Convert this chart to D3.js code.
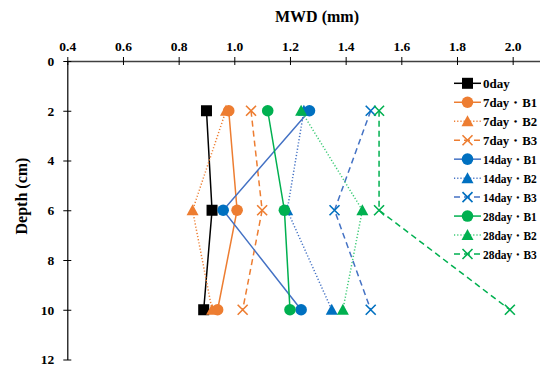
<!DOCTYPE html>
<html>
<head>
<meta charset="utf-8">
<script src="https://cdn.jsdelivr.net/npm/d3@7"></script>
<style>
  body { margin: 0; background: #fff; }
</style>
</head>
<body>
<svg id="chart" width="540" height="367"></svg>
<script>
// depths (cm) sampled
var depths = [2, 6, 10];

// MWD values (mm), one array per series
var day0   = [0.90, 0.92, 0.89];
var d7B1   = [0.98, 1.01, 0.94];
var d7B2   = [0.97, 0.85, 0.92];
var d7B3   = [1.06, 1.10, 1.03];
var d14B1  = [1.27, 0.96, 1.24];
var d14B2  = [1.25, 1.19, 1.35];
var d14B3  = [1.49, 1.36, 1.49];
var d28B1  = [1.12, 1.18, 1.20];
var d28B2  = [1.24, 1.46, 1.39];
var d28B3  = [1.52, 1.52, 1.99];

var seriesNames = ['0day', '7day・B1', '7day・B2', '7day・B3',
                   '14day・B1', '14day・B2', '14day・B3',
                   '28day・B1', '28day・B2', '28day・B3'];

var xTicks = [0.4, 0.6, 0.8, 1.0, 1.2, 1.4, 1.6, 1.8, 2.0];
var yTicks = [0, 2, 4, 6, 8, 10, 12];

var FONT = '"Liberation Serif", Tinos, "Times New Roman", "DejaVu Serif", serif';

// styles for each series
var orange = '#ED7D31', blueLine = '#4472C4', blue = '#0070C0', green = '#00B050';
var styles = [
    {line: '#000', marker: '#000', shape: 'square', dash: null},
    {line: orange, marker: orange, shape: 'circle', dash: null},
    {line: orange, marker: orange, shape: 'triangle', dash: '1.2,2'},
    {line: orange, marker: orange, shape: 'cross', dash: '6,4'},
    {line: blueLine, marker: blue, shape: 'circle', dash: null},
    {line: blueLine, marker: blue, shape: 'triangle', dash: '1.2,2'},
    {line: blueLine, marker: blue, shape: 'cross', dash: '6,4'},
    {line: green, marker: green, shape: 'circle', dash: null},
    {line: '#3CCB76', marker: green, shape: 'triangle', dash: '1.2,2'},
    {line: green, marker: green, shape: 'cross', dash: '6,4'}
];

var allValues = [day0, d7B1, d7B2, d7B3, d14B1, d14B2, d14B3, d28B1, d28B2, d28B3];
var series = allValues.map(function(vals, i) {
    return {
        name: seriesNames[i],
        style: styles[i],
        points: vals.map(function(v, j) { return {x: v, y: depths[j]}; })
    };
});

var svg = d3.select('#chart');

var x = d3.scaleLinear().domain([0.4, 2.1]).range([67.3, 540.5]);
var y = d3.scaleLinear().domain([0, 12]).range([61, 359.5]);

// top x axis, ticks crossing the line
var xAxisG = svg.append('g')
    .attr('transform', 'translate(0,' + y(0) + ')')
    .call(d3.axisTop(x).tickValues(xTicks).tickSize(0).tickPadding(10)
        .tickFormat(d3.format('.1f')));
xAxisG.attr('font-family', null).attr('font-size', null);
xAxisG.select('.domain').attr('stroke', '#404040').attr('stroke-width', 1.5);
xAxisG.selectAll('.tick line').remove();
xAxisG.selectAll('.tick').append('line')
    .attr('y1', -4).attr('y2', 4).attr('stroke', '#000').attr('stroke-width', 1);
xAxisG.selectAll('.tick text')
    .attr('font-family', FONT).attr('font-weight', 'bold').attr('font-size', '13.5px');

// left y axis
var yAxisG = svg.append('g')
    .attr('transform', 'translate(' + x(0.4) + ',0)')
    .call(d3.axisLeft(y).tickValues(yTicks).tickSize(0).tickPadding(13));
yAxisG.attr('font-family', null).attr('font-size', null);
yAxisG.select('.domain').attr('stroke', '#000').attr('stroke-width', 1.2);
yAxisG.selectAll('.tick line').remove();
yAxisG.selectAll('.tick').append('line')
    .attr('x1', -4).attr('x2', 4).attr('stroke', '#000').attr('stroke-width', 1);
yAxisG.selectAll('.tick text')
    .attr('font-family', FONT).attr('font-weight', 'bold').attr('font-size', '13.5px');

// axis titles
svg.append('text')
    .attr('x', 317).attr('y', 22)
    .attr('text-anchor', 'middle')
    .attr('font-family', FONT).attr('font-weight', 'bold')
    .attr('font-size', '16px')
    .text('MWD (mm)');

svg.append('text')
    .attr('transform', 'translate(27,' + 196 + ') rotate(-90)')
    .attr('text-anchor', 'middle')
    .attr('font-family', FONT).attr('font-weight', 'bold')
    .attr('font-size', '16px')
    .text('Depth (cm)');

// marker drawing helper
function drawMarker(g, shape, color) {
    if (shape === 'square') {
        g.append('rect').attr('x', -5.5).attr('y', -5.5).attr('width', 11).attr('height', 11).attr('fill', color);
    } else if (shape === 'circle') {
        g.append('circle').attr('r', 5.8).attr('fill', color);
    } else if (shape === 'triangle') {
        g.append('path').attr('d', 'M0,-6L6,5L-6,5Z').attr('fill', color);
    } else {
        g.append('path').attr('d', 'M-5,-5L5,5M-5,5L5,-5')
            .attr('stroke', color).attr('stroke-width', 1.6).attr('fill', 'none');
    }
}

var line = d3.line()
    .x(function(d) { return x(d.x); })
    .y(function(d) { return y(d.y); });

var plotG = svg.append('g');
series.forEach(function(s) {
    var g = plotG.append('g');
    g.append('path')
        .datum(s.points)
        .attr('d', line)
        .attr('fill', 'none')
        .attr('stroke', s.style.line)
        .attr('stroke-width', 1.5)
        .attr('stroke-dasharray', s.style.dash);
    g.selectAll('.marker')
        .data(s.points)
        .enter()
        .append('g')
        .attr('class', 'marker')
        .attr('transform', function(d) { return 'translate(' + x(d.x) + ',' + y(d.y) + ')'; })
        .each(function() { drawMarker(d3.select(this), s.style.shape, s.style.marker); });
});

// legend
var legendRow = d3.scaleLinear().domain([0, 9]).range([83.3, 254]);
var legend = svg.append('g');
series.forEach(function(s, i) {
    var row = legend.append('g').attr('transform', 'translate(0,' + legendRow(i) + ')');
    row.append('line')
        .attr('x1', 454).attr('x2', 481)
        .attr('stroke', s.style.line)
        .attr('stroke-width', 1.5)
        .attr('stroke-dasharray', s.style.dash);
    var m = row.append('g').attr('transform', 'translate(467.5,0)');
    drawMarker(m, s.style.shape, s.style.marker);
    var t = row.append('text')
        .attr('font-family', FONT).attr('font-weight', 'bold')
        .attr('font-size', '13px')
        .text(s.name);
    // squeeze long labels so they stay inside the picture
    var w = t.node().getComputedTextLength();
    var k = Math.min(1, 54 / w);
    t.attr('transform', 'translate(483,4.5) scale(' + k + ',1)');
});
</script>
</body>
</html>
